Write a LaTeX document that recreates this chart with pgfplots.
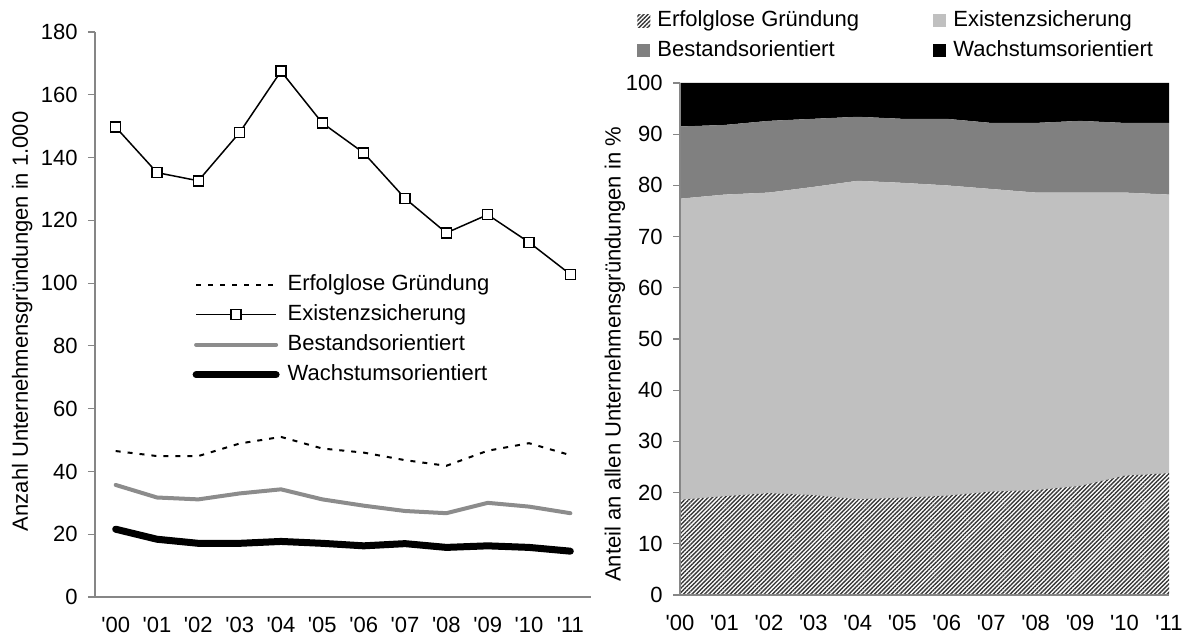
\documentclass[border=0pt]{standalone}
\usepackage{fontspec}
\setmainfont{Liberation Sans}
\usepackage{pgfplots}
\pgfplotsset{compat=1.18}
\usetikzlibrary{patterns.meta}
\definecolor{axgray}{RGB}{134,134,134}
\definecolor{lgray}{RGB}{192,192,192}
\definecolor{mgray}{RGB}{128,128,128}
\definecolor{linegray}{RGB}{140,140,140}
\definecolor{hatchgray}{RGB}{55,55,55}

\pgfplotsset{
  panel/.style={
    scale only axis,
    axis lines=left,
    axis line style={-, draw=axgray, line width=0.6pt},
    tick align=outside,
    major tick length=3.5pt,
    ytick style={draw=axgray, line width=0.6pt},
    xtick style={draw=none},
    /pgf/number format/assume math mode=true,
    xticklabel style={anchor=north, inner sep=0pt, yshift=-6.5pt},
    yticklabel style={anchor=east, inner sep=0pt, xshift=-5pt},
    xtick={0,...,11},
    xticklabels={\textquotesingle00,\textquotesingle01,\textquotesingle02,\textquotesingle03,\textquotesingle04,\textquotesingle05,\textquotesingle06,\textquotesingle07,\textquotesingle08,\textquotesingle09,\textquotesingle10,\textquotesingle11},
    legend cell align=left,
  }
}

\begin{document}
\begin{tikzpicture}[font=\fontsize{11}{13}\selectfont]

% linke Grafik: absolute Zahlen
\begin{axis}[panel,
  at={(0pt,0pt)}, anchor=south west,
  width=248pt, height=282.5pt,
  xmin=-0.5, xmax=11.5, ymin=0, ymax=180,
  ytick={0,20,...,180},
  ylabel={Anzahl Unternehmensgründungen in 1.000},
  every axis y label/.style={at={(axis description cs:-0.147,0.488)}, rotate=90, anchor=center},
  legend style={at={(0.196,0.572)}, anchor=north west, draw=none, fill=none,
    inner sep=0pt, row sep=4.5pt,
    nodes={inner sep=0pt, text height=8pt, text depth=2.5pt, anchor=west},
    /tikz/every odd column/.append style={column sep=4pt}},
  legend image code/.code={\draw[mark repeat=2,mark phase=2,#1] plot coordinates {(0pt,0pt) (20pt,0pt) (40pt,0pt)};},
]
\addplot[black, line width=1pt, dash pattern=on 2.5pt off 3.5pt] coordinates {
  (0,46.5)(1,44.9)(2,44.9)(3,48.9)(4,51.0)(5,47.3)(6,46.0)(7,43.6)(8,41.8)(9,46.6)(10,49.0)(11,45.2)};
\addlegendentry{Erfolglose Gründung}
\addplot[black, line width=0.75pt, mark=square*, mark size=2.5pt,
  mark options={fill=white, draw=black, line width=0.75pt, solid}] coordinates {
  (0,149.7)(1,135.2)(2,132.6)(3,148.0)(4,167.5)(5,151.0)(6,141.5)(7,127.0)(8,116.0)(9,121.8)(10,113.0)(11,102.8)};
\addlegendentry{Existenzsicherung}
\addplot[linegray, line width=2pt, line join=round, line cap=round] coordinates {
  (0,35.7)(1,31.7)(2,31.1)(3,33.0)(4,34.3)(5,31.1)(6,29.1)(7,27.4)(8,26.7)(9,30.0)(10,28.8)(11,26.7)};
\addlegendentry{Bestandsorientiert}
\addplot[black, line width=3.5pt, line join=round, line cap=round] coordinates {
  (0,21.6)(1,18.4)(2,17.1)(3,17.1)(4,17.7)(5,17.1)(6,16.3)(7,17.0)(8,15.8)(9,16.3)(10,15.8)(11,14.6)};
\addlegendentry{Wachstumsorientiert}
\end{axis}

% rechte Grafik: Anteile in Prozent (gestapelt)
\begin{axis}[panel,
  at={(292.5pt,1pt)}, anchor=south west,
  width=244.5pt, height=256pt,
  xmin=0, xmax=11, ymin=0, ymax=100,
  ytick={0,10,...,100},
  stack plots=y, axis on top,
  ylabel={Anteil an allen Unternehmensgründungen in \%},
  every axis y label/.style={at={(axis description cs:-0.133,0.47)}, rotate=90, anchor=center},
  legend columns=2,
  legend style={at={(-0.088,1.143)}, anchor=north west, draw=none, fill=none,
    inner sep=0pt, row sep=4.5pt,
    nodes={inner sep=0pt, text height=8pt, text depth=2.5pt, anchor=west},
    /tikz/every odd column/.append style={column sep=3.5pt}},
  legend image code/.code={\path[#1] (0pt,-3.25pt) rectangle (6.5pt,3.25pt);},
]
\addplot[draw=none, pattern={Lines[angle=45, distance=1.5pt, line width=0.7pt]}, pattern color=hatchgray] coordinates {
  (0,18.6)(1,19.3)(2,19.9)(3,19.5)(4,18.7)(5,19.0)(6,19.4)(7,20.2)(8,20.5)(9,21.3)(10,23.3)(11,23.8)} \closedcycle;
\addlegendentry{\makebox[138pt][l]{Erfolglose Gründung}}
\addplot[draw=none, fill=lgray] coordinates {
  (0,58.8)(1,58.9)(2,58.7)(3,60.2)(4,62.2)(5,61.5)(6,60.6)(7,59.1)(8,58.1)(9,57.3)(10,55.3)(11,54.4)} \closedcycle;
\addlegendentry{Existenzsicherung}
\addplot[draw=none, fill=mgray] coordinates {
  (0,14.1)(1,13.6)(2,14.0)(3,13.3)(4,12.5)(5,12.5)(6,13.0)(7,12.9)(8,13.6)(9,14.0)(10,13.6)(11,14.0)} \closedcycle;
\addlegendentry{\makebox[138pt][l]{Bestandsorientiert}}
\addplot[draw=none, fill=black] coordinates {
  (0,8.5)(1,8.2)(2,7.4)(3,7.0)(4,6.6)(5,7.0)(6,7.0)(7,7.8)(8,7.8)(9,7.4)(10,7.8)(11,7.8)} \closedcycle;
\addlegendentry{Wachstumsorientiert}
\end{axis}

\pgfresetboundingbox
\path (-47.5pt,-20pt) rectangle (544pt,298.5pt);
\end{tikzpicture}
\end{document}
